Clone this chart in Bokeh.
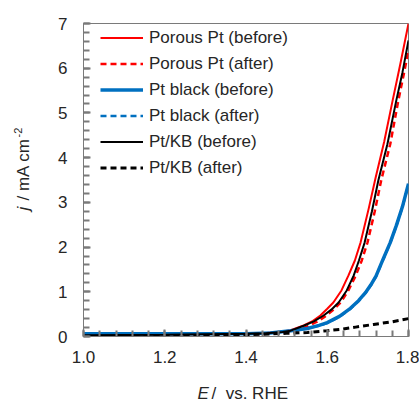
import math
from bokeh.plotting import figure
from bokeh.models import Range1d, Legend, LegendItem, Label, SingleIntervalTicker
from bokeh.embed import file_html
from bokeh.resources import INLINE

# ---- data ----
E_porous_before = [1.00, 1.20, 1.40, 1.45, 1.49, 1.51, 1.542, 1.565, 1.583, 1.600, 1.615, 1.635, 1.652, 1.668, 1.682, 1.702, 1.719, 1.740, 1.761, 1.780, 1.800]
j_porous_before = [0.04, 0.05, 0.06, 0.08, 0.11, 0.14, 0.25, 0.35, 0.47, 0.62, 0.76, 1.03, 1.36, 1.70, 2.10, 2.86, 3.55, 4.35, 5.28, 6.10, 7.00]

E_porous_after = [1.00, 1.20, 1.40, 1.45, 1.49, 1.52, 1.55, 1.575, 1.595, 1.615, 1.633, 1.652, 1.670, 1.685, 1.699, 1.717, 1.733, 1.755, 1.775, 1.788, 1.800]
j_porous_after = [0.00, 0.02, 0.05, 0.06, 0.08, 0.12, 0.22, 0.33, 0.45, 0.60, 0.76, 1.03, 1.36, 1.70, 2.10, 2.80, 3.50, 4.30, 5.28, 5.85, 6.40]

E_ptblack_before = [1.00, 1.20, 1.40, 1.46, 1.51, 1.551, 1.580, 1.600, 1.630, 1.657, 1.677, 1.694, 1.707, 1.720, 1.738, 1.755, 1.770, 1.785, 1.800]
j_ptblack_before = [0.06, 0.06, 0.06, 0.08, 0.13, 0.18, 0.25, 0.31, 0.45, 0.63, 0.80, 0.98, 1.15, 1.35, 1.74, 2.10, 2.48, 2.90, 3.42]

E_ptblack_after = [1.00, 1.20, 1.40, 1.46, 1.51, 1.551, 1.580, 1.600, 1.630, 1.657, 1.677, 1.694, 1.707, 1.720, 1.738, 1.755, 1.770, 1.785, 1.800]
j_ptblack_after = [0.05, 0.05, 0.06, 0.08, 0.12, 0.18, 0.24, 0.30, 0.44, 0.62, 0.79, 0.97, 1.14, 1.34, 1.73, 2.09, 2.47, 2.89, 3.40]

E_ptkb_before = [1.00, 1.20, 1.40, 1.45, 1.49, 1.51, 1.542, 1.567, 1.591, 1.610, 1.628, 1.648, 1.665, 1.678, 1.692, 1.710, 1.726, 1.748, 1.770, 1.785, 1.800]
j_ptkb_before = [0.03, 0.04, 0.06, 0.07, 0.10, 0.13, 0.24, 0.34, 0.47, 0.60, 0.76, 1.03, 1.36, 1.70, 2.10, 2.80, 3.50, 4.30, 5.28, 5.90, 6.62]

E_ptkb_after = [1.00, 1.20, 1.30, 1.40, 1.50, 1.551, 1.600, 1.633, 1.670, 1.714, 1.760, 1.800]
j_ptkb_after = [-0.01, 0.00, 0.02, 0.04, 0.07, 0.09, 0.13, 0.16, 0.21, 0.27, 0.33, 0.40]

series_labels = ["Porous Pt (before)", "Porous Pt (after)", "Pt black (before)",
                 "Pt black (after)", "Pt/KB (before)", "Pt/KB (after)"]
x_ticks = [1.0, 1.2, 1.4, 1.6, 1.8]
y_ticks = [0, 1, 2, 3, 4, 5, 6, 7]

FONT = "Liberation Sans"
GRAY = "#7a7a7a"
TXT = "#262626"

p = figure(width=419, height=403, output_backend="svg", toolbar_location=None,
           x_range=Range1d(1.0, 1.8), y_range=Range1d(0, 7),
           min_border_left=83, min_border_right=11, min_border_top=23, min_border_bottom=67)
p.xgrid.visible = False
p.ygrid.visible = False
p.outline_line_color = GRAY
p.outline_line_width = 1

for ax in (p.xaxis[0], p.yaxis[0]):
    ax.axis_line_color = GRAY
    ax.major_tick_line_color = GRAY
    ax.minor_tick_line_color = GRAY
    ax.major_tick_line_width = 2
    ax.minor_tick_line_width = 2
    ax.major_tick_in = 7
    ax.major_tick_out = 0
    ax.minor_tick_in = 6
    ax.minor_tick_out = 0
    ax.major_label_text_font = FONT
    ax.major_label_text_font_size = "17px"
    ax.major_label_text_color = TXT

p.xaxis[0].ticker = SingleIntervalTicker(interval=0.2, num_minor_ticks=5)
p.yaxis[0].ticker = SingleIntervalTicker(interval=1, num_minor_ticks=5)
p.xaxis[0].major_label_overrides = {v: f"{v:.1f}" for v in x_ticks}
p.yaxis[0].major_label_overrides = {v: str(v) for v in y_ticks}
p.xaxis[0].major_label_standoff = 14
p.yaxis[0].major_label_standoff = 16

r1 = p.line(E_porous_before, j_porous_before, line_color="#ff0000", line_width=2)
r2 = p.line(E_porous_after, j_porous_after, line_color="#ff0000", line_width=2.5, line_dash="6 4")
r3 = p.line(E_ptblack_before, j_ptblack_before, line_color="#0070c0", line_width=3.5)
r4 = p.line(E_ptblack_after, j_ptblack_after, line_color="#0070c0", line_width=2.5, line_dash="6 4")
r5 = p.line(E_ptkb_before, j_ptkb_before, line_color="#000000", line_width=2)
r6 = p.line(E_ptkb_after, j_ptkb_after, line_color="#000000", line_width=3, line_dash="6 4")

legend = Legend(items=[LegendItem(label=lbl, renderers=[r])
                       for lbl, r in zip(series_labels, [r1, r2, r3, r4, r5, r6])],
                location=(17, 158))
legend.border_line_color = None
legend.background_fill_alpha = 0
legend.padding = 0
legend.margin = 0
legend.spacing = 5
legend.glyph_width = 43
legend.glyph_height = 21
legend.label_height = 21
legend.label_standoff = 6
legend.label_text_font = FONT
legend.label_text_font_size = "17px"
legend.label_text_color = TXT
p.add_layout(legend)

# axis titles (mixed italic / superscript) as labels in side panels
def px_to_x(px):
    return 1.0 + (px - 83) / 325 * 0.8

def px_to_y(py):
    return (336 - py) / 313 * 7

lab = dict(text_font=FONT, text_color=TXT)
p.add_layout(Label(x=px_to_x(197), y=px_to_y(393), text="E", text_font_style="italic",
                   text_font_size="17px", text_align="left", text_baseline="middle", **lab), "above")
p.add_layout(Label(x=px_to_x(211), y=px_to_y(393), text="/ \u00a0vs. RHE", text_font_size="17px",
                   text_align="left", text_baseline="middle", **lab), "below")
p.add_layout(Label(x=px_to_x(23), y=px_to_y(210), text="j", text_font_style="italic", text_font_size="17px",
                   angle=math.pi / 2, text_align="left", text_baseline="middle", **lab), "left")
p.add_layout(Label(x=px_to_x(23), y=px_to_y(200), text="/ mA cm", text_font_size="17px",
                   angle=math.pi / 2, text_align="left", text_baseline="middle", **lab), "left")
p.add_layout(Label(x=px_to_x(17), y=px_to_y(137), text="-2", text_font_size="11px",
                   angle=math.pi / 2, text_align="left", text_baseline="middle", **lab), "left")

open("out.html", "w").write(file_html(p, INLINE))
